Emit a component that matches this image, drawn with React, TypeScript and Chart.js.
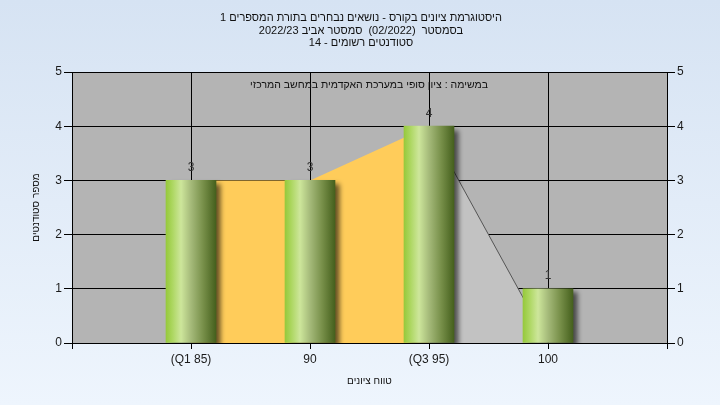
import React, { useEffect, useRef } from "react";
import { Chart, registerables } from "chart.js";

Chart.register(...registerables);

const titleLines = [
  "היסטוגרמת ציונים בקורס - נושאים נבחרים בתורת המספרים 1",
  "בסמסטר  (02/2022)  סמסטר אביב 2022/23",
  "סטודנטים רשומים - 14",
];
const noteText = "במשימה : ציון סופי במערכת האקדמית במחשב המרכזי";
const xTitle = "טווח ציונים";
const yTitle = "מספר סטודנטים";

const categories = ["(Q1 85)", "90", "(Q3 95)", "100"];
const counts = [3, 3, 4, 1];
// inter-quartile area (orange) at categories 1..3, tail area (gray) at categories 3..4
const iqrPositions = [1, 2, 3];
const iqrValues = [3, 3, 4];
const tailPositions = [3, 4];
const tailValues = [4, 0];
const yTicks = [0, 1, 2, 3, 4, 5];

const FONT = '"Liberation Sans", Arial, "DejaVu Sans", sans-serif';

export default function App() {
  const ref = useRef<HTMLCanvasElement | null>(null);

  useEffect(() => {
    const canvas = ref.current;
    if (!canvas) return;

    const decor = {
      id: "decor",
      beforeDraw(chart: any) {
        const { ctx, chartArea: a } = chart;
        ctx.save();
        ctx.fillStyle = "#B4B4B4";
        ctx.fillRect(a.left, a.top, a.right - a.left, a.bottom - a.top);
        ctx.restore();
      },
      beforeDatasetDraw(chart: any, args: any) {
        if (args.index === 0) {
          const ctx = chart.ctx;
          ctx.save();
          ctx.shadowColor = "rgba(0,0,0,0.6)";
          ctx.shadowBlur = 5;
          ctx.shadowOffsetX = 5;
          ctx.shadowOffsetY = 4;
        }
      },
      afterDatasetDraw(chart: any, args: any) {
        if (args.index === 0) chart.ctx.restore();
      },
      afterDraw(chart: any) {
        const { ctx, chartArea: a } = chart;
        ctx.save();
        ctx.fillStyle = "#111";
        ctx.textAlign = "center";
        ctx.textBaseline = "middle";
        ctx.direction = "rtl";
        ctx.font = "11px " + FONT;
        const ys = [18, 30.5, 43];
        titleLines.forEach((t, i) => ctx.fillText(t, 361, ys[i]));
        ctx.font = "10.5px " + FONT;
        ctx.fillText(noteText, 369, 85);
        ctx.font = "10px " + FONT;
        ctx.fillText(xTitle, (a.left + a.right) / 2, 381);
        ctx.save();
        ctx.translate(36, (a.top + a.bottom) / 2);
        ctx.rotate(-Math.PI / 2);
        ctx.fillText(yTitle, 0, 0);
        ctx.restore();
        // value labels
        ctx.direction = "ltr";
        ctx.font = "12px " + FONT;
        ctx.fillStyle = "#333";
        ctx.textBaseline = "bottom";
        const meta = chart.getDatasetMeta(0);
        meta.data.forEach((el: any, i: number) => {
          ctx.fillText(String(counts[i]), el.x, el.y - 7);
        });
        ctx.restore();
      },
    };

    const barFill = (c: any) => {
      const chart = c.chart;
      const xs = chart.scales && chart.scales.x;
      if (!xs || c.type !== "data" || !c.raw) return "#A8D55A";
      const px = xs.getPixelForValue(c.raw.x);
      if (!Number.isFinite(px)) return "#A8D55A";
      const g = chart.ctx.createLinearGradient(px - 25, 0, px + 25, 0);
      g.addColorStop(0, "#96C93C");
      g.addColorStop(0.12, "#ABD65E");
      g.addColorStop(0.3, "#CDE69B");
      g.addColorStop(0.5, "#A5BA7A");
      g.addColorStop(0.75, "#768E48");
      g.addColorStop(1, "#45601D");
      return g;
    };

    const tickColor = "#1a1a1a";
    const yScale = (pos: string, w: number, onArea: boolean) => ({
      type: "linear",
      position: pos,
      min: 0,
      max: 5,
      afterFit: (s: any) => {
        s.width = w;
      },
      afterBuildTicks: (s: any) => {
        s.ticks = yTicks.map((v) => ({ value: v }));
      },
      ticks: {
        stepSize: 1,
        padding: 2,
        color: tickColor,
        font: { family: FONT, size: 12 },
      },
      grid: {
        color: "#000",
        lineWidth: 1,
        tickLength: 8,
        drawOnChartArea: onArea,
      },
      border: { color: "#000", width: 1 },
    });

    const chart = new Chart(canvas, {
      type: "bar",
      data: {
        datasets: [
          {
            type: "bar",
            data: categories.map((_, i) => ({ x: i + 1, y: counts[i] })),
            backgroundColor: barFill,
            borderWidth: 0,
            barThickness: 50,
            order: 0,
          } as any,
          {
            type: "line",
            data: iqrPositions.map((p, i) => ({ x: p, y: iqrValues[i] })),
            backgroundColor: "#FFCC5A",
            borderColor: "rgba(0,0,0,0)",
            borderWidth: 0,
            pointRadius: 0,
            fill: "origin",
            tension: 0,
            order: 1,
          } as any,
          {
            type: "line",
            data: tailPositions.map((p, i) => ({ x: p, y: tailValues[i] })),
            backgroundColor: "#C2C2C2",
            borderColor: "#555",
            borderWidth: 1,
            pointRadius: 0,
            fill: "origin",
            tension: 0,
            order: 2,
          } as any,
        ],
      },
      options: {
        animation: false,
        responsive: false,
        maintainAspectRatio: false,
        layout: { padding: { top: 72, left: 0, right: 0, bottom: 0 } },
        plugins: {
          legend: { display: false },
          tooltip: { enabled: false },
          title: { display: false },
        },
        scales: {
          x: {
            type: "linear",
            position: "bottom",
            min: 0,
            max: 5,
            offset: false,
            afterFit: (s: any) => {
              s.height = 62;
            },
            afterBuildTicks: (s: any) => {
              s.ticks = [0, 1, 2, 3, 4, 5].map((v) => ({ value: v }));
            },
            ticks: {
              stepSize: 1,
              autoSkip: false,
              maxRotation: 0,
              padding: 3,
              color: tickColor,
              font: { family: FONT, size: 12 },
              callback: (v: any) => categories[Number(v) - 1] ?? "",
            },
            grid: { color: "#000", lineWidth: 1, tickLength: 6, offset: false },
            border: { color: "#000", width: 1 },
          },
          y: yScale("left", 72, true),
          y2: yScale("right", 53, false),
        } as any,
      },
      plugins: [decor],
    } as any);

    return () => chart.destroy();
  }, []);

  return (
    <div
      style={{
        position: "absolute",
        left: 0,
        top: 0,
        width: 720,
        height: 405,
        background: "linear-gradient(to bottom, #D6E3F3, #EEF5FD)",
      }}
    >
      <canvas ref={ref} width={720} height={405} style={{ display: "block" }} />
    </div>
  );
}
